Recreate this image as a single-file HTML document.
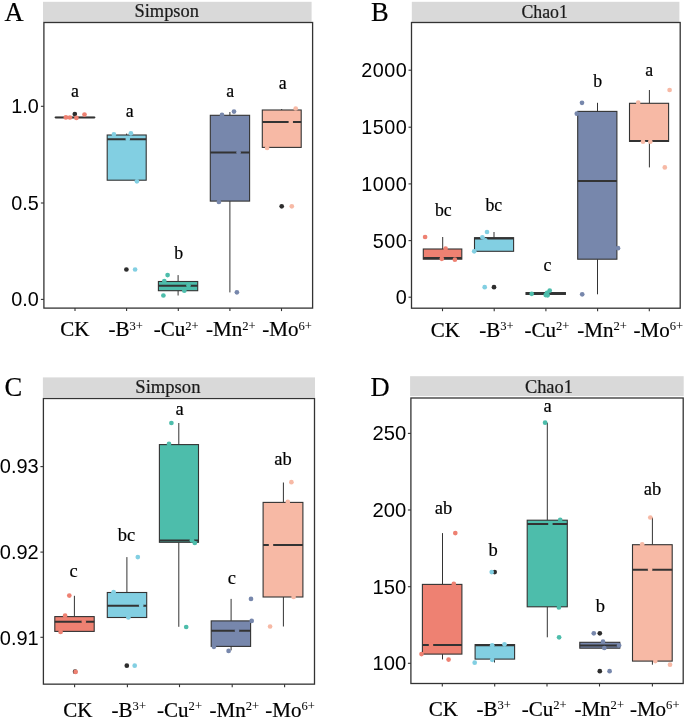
<!DOCTYPE html>
<html><head><meta charset="utf-8"><title>Alpha diversity boxplots</title>
<style>html,body{margin:0;padding:0;background:#fff;width:685px;height:719px;overflow:hidden}svg{display:block;will-change:transform}.s{font-family:"Liberation Serif",serif}.n{font-family:"Liberation Sans",sans-serif;fill:#000}</style>
</head><body>
<svg width="685" height="719" viewBox="0 0 685 719">
<rect width="685" height="719" fill="#fff"/>
<rect x="43" y="1.8" width="268.6" height="20.5" fill="#D9D9D9"/>
<text x="166.7" y="17.2" class="s" font-size="18.4" text-anchor="middle" fill="#1a1a1a" stroke="#1a1a1a" stroke-width="0.2">Simpson</text>
<text x="4.4" y="20.8" class="s" font-size="26.5" fill="#000" stroke="#000" stroke-width="0.2">A</text>
<line x1="40.9" y1="299.4" x2="43.9" y2="299.4" stroke="#333333" stroke-width="1.1"/>
<text x="38.8" y="306.4" class="n" font-size="19.8" text-anchor="end">0.0</text>
<line x1="40.9" y1="203" x2="43.9" y2="203" stroke="#333333" stroke-width="1.1"/>
<text x="38.8" y="210" class="n" font-size="19.8" text-anchor="end">0.5</text>
<line x1="40.9" y1="106.3" x2="43.9" y2="106.3" stroke="#333333" stroke-width="1.1"/>
<text x="38.8" y="113.3" class="n" font-size="19.8" text-anchor="end">1.0</text>
<line x1="75" y1="308.1" x2="75" y2="311.1" stroke="#333333" stroke-width="1.1"/>
<text x="60.24" y="336.4" class="s" font-size="21" fill="#000" stroke="#000" stroke-width="0.2">CK</text>
<line x1="126.6" y1="308.1" x2="126.6" y2="311.1" stroke="#333333" stroke-width="1.1"/>
<text x="108.52" y="336.4" class="s" font-size="21" fill="#000" stroke="#000" stroke-width="0.2">-B<tspan dy="-6.7" font-size="12.6" stroke-width="0.05">3+</tspan></text>
<line x1="178.3" y1="308.1" x2="178.3" y2="311.1" stroke="#333333" stroke-width="1.1"/>
<text x="153.82" y="336.4" class="s" font-size="21" fill="#000" stroke="#000" stroke-width="0.2">-Cu<tspan dy="-6.7" font-size="12.6" stroke-width="0.05">2+</tspan></text>
<line x1="229.9" y1="308.1" x2="229.9" y2="311.1" stroke="#333333" stroke-width="1.1"/>
<text x="206.12" y="336.4" class="s" font-size="21" fill="#000" stroke="#000" stroke-width="0.2">-Mn<tspan dy="-6.7" font-size="12.6" stroke-width="0.05">2+</tspan></text>
<line x1="281.5" y1="308.1" x2="281.5" y2="311.1" stroke="#333333" stroke-width="1.1"/>
<text x="262.22" y="336.4" class="s" font-size="21" fill="#000" stroke="#000" stroke-width="0.2">-Mo<tspan dy="-6.7" font-size="12.6" stroke-width="0.05">6+</tspan></text>
<rect x="55.2" y="117.4" width="39.6" height="0.01" fill="#EE8172" stroke="#333333" stroke-width="1.1"/>
<line x1="55.2" y1="117.4" x2="94.8" y2="117.4" stroke="#333333" stroke-width="2.0"/>
<line x1="126.6" y1="133.6" x2="126.6" y2="135" stroke="#333333" stroke-width="1.0"/>
<rect x="107.2" y="135" width="39" height="45.2" fill="#82CFE2" stroke="#333333" stroke-width="1.1"/>
<line x1="107.2" y1="139.3" x2="146.2" y2="139.3" stroke="#333333" stroke-width="2.0"/>
<line x1="178.1" y1="275.1" x2="178.1" y2="281.5" stroke="#333333" stroke-width="1.0"/>
<line x1="178.1" y1="290.7" x2="178.1" y2="295.5" stroke="#333333" stroke-width="1.0"/>
<rect x="158.4" y="281.5" width="39.3" height="9.2" fill="#4DBDAB" stroke="#333333" stroke-width="1.1"/>
<line x1="158.4" y1="285.7" x2="197.7" y2="285.7" stroke="#333333" stroke-width="2.0"/>
<line x1="229.9" y1="112" x2="229.9" y2="115.3" stroke="#333333" stroke-width="1.0"/>
<line x1="229.9" y1="201.1" x2="229.9" y2="292.4" stroke="#333333" stroke-width="1.0"/>
<rect x="210.3" y="115.3" width="39.3" height="85.8" fill="#7787AC" stroke="#333333" stroke-width="1.1"/>
<line x1="210.3" y1="152.4" x2="249.6" y2="152.4" stroke="#333333" stroke-width="2.0"/>
<line x1="281.7" y1="109" x2="281.7" y2="110" stroke="#333333" stroke-width="1.0"/>
<rect x="262.3" y="110" width="38.9" height="37.4" fill="#F7B9A5" stroke="#333333" stroke-width="1.1"/>
<line x1="262.3" y1="122.1" x2="301.2" y2="122.1" stroke="#333333" stroke-width="2.0"/>
<circle cx="74.8" cy="114" r="2.35" fill="#2d2d2d"/>
<circle cx="65.9" cy="117.4" r="2.35" fill="#EE8172"/>
<circle cx="69.9" cy="117.5" r="2.35" fill="#EE8172"/>
<circle cx="76.4" cy="117.9" r="2.35" fill="#EE8172"/>
<circle cx="84.5" cy="114.6" r="2.35" fill="#EE8172"/>
<circle cx="126.4" cy="269.5" r="2.35" fill="#2d2d2d"/>
<circle cx="113.9" cy="134.4" r="2.35" fill="#82CFE2"/>
<circle cx="130.9" cy="133.3" r="2.35" fill="#82CFE2"/>
<circle cx="127.8" cy="138.9" r="2.35" fill="#82CFE2"/>
<circle cx="136.9" cy="181.3" r="2.35" fill="#82CFE2"/>
<circle cx="135.1" cy="269.5" r="2.35" fill="#82CFE2"/>
<circle cx="167.6" cy="275.1" r="2.35" fill="#4DBDAB"/>
<circle cx="164.3" cy="281" r="2.35" fill="#4DBDAB"/>
<circle cx="163.4" cy="295.5" r="2.35" fill="#4DBDAB"/>
<circle cx="184.3" cy="290.7" r="2.35" fill="#4DBDAB"/>
<circle cx="188.5" cy="285.5" r="2.35" fill="#4DBDAB"/>
<circle cx="222" cy="114.9" r="2.35" fill="#7787AC"/>
<circle cx="234" cy="111.6" r="2.35" fill="#7787AC"/>
<circle cx="218.9" cy="201.9" r="2.35" fill="#7787AC"/>
<circle cx="236.9" cy="292.3" r="2.35" fill="#7787AC"/>
<circle cx="238.6" cy="152.4" r="2.35" fill="#7787AC"/>
<circle cx="281.7" cy="206.3" r="2.35" fill="#2d2d2d"/>
<circle cx="295.7" cy="108.5" r="2.35" fill="#F7B9A5"/>
<circle cx="267.1" cy="148" r="2.35" fill="#F7B9A5"/>
<circle cx="291.8" cy="206.3" r="2.35" fill="#F7B9A5"/>
<circle cx="290.8" cy="122" r="2.35" fill="#F7B9A5"/>
<text x="75" y="96.7" class="s" font-size="17.8" text-anchor="middle" fill="#000" stroke="#000" stroke-width="0.2">a</text>
<text x="129.6" y="116.8" class="s" font-size="17.8" text-anchor="middle" fill="#000" stroke="#000" stroke-width="0.2">a</text>
<text x="178.7" y="259.2" class="s" font-size="17.8" text-anchor="middle" fill="#000" stroke="#000" stroke-width="0.2">b</text>
<text x="230.1" y="97.2" class="s" font-size="17.8" text-anchor="middle" fill="#000" stroke="#000" stroke-width="0.2">a</text>
<text x="282.7" y="89" class="s" font-size="17.8" text-anchor="middle" fill="#000" stroke="#000" stroke-width="0.2">a</text>
<rect x="43.9" y="22.5" width="268.7" height="285.6" fill="none" stroke="#333333" stroke-width="1.3"/>
<rect x="411.8" y="1.8" width="267.6" height="20.5" fill="#D9D9D9"/>
<text x="544.6" y="18.1" class="s" font-size="17.8" text-anchor="middle" fill="#1a1a1a" stroke="#1a1a1a" stroke-width="0.2">Chao1</text>
<text x="371" y="20.8" class="s" font-size="26.5" fill="#000" stroke="#000" stroke-width="0.2">B</text>
<line x1="408.5" y1="297.2" x2="411.5" y2="297.2" stroke="#333333" stroke-width="1.1"/>
<text x="407.3" y="304.2" class="n" font-size="19.8" text-anchor="end" letter-spacing="0.5">0</text>
<line x1="408.5" y1="240.6" x2="411.5" y2="240.6" stroke="#333333" stroke-width="1.1"/>
<text x="407.3" y="247.6" class="n" font-size="19.8" text-anchor="end" letter-spacing="0.5">500</text>
<line x1="408.5" y1="183.9" x2="411.5" y2="183.9" stroke="#333333" stroke-width="1.1"/>
<text x="407.3" y="190.9" class="n" font-size="19.8" text-anchor="end" letter-spacing="0.5">1000</text>
<line x1="408.5" y1="127.2" x2="411.5" y2="127.2" stroke="#333333" stroke-width="1.1"/>
<text x="407.3" y="134.2" class="n" font-size="19.8" text-anchor="end" letter-spacing="0.5">1500</text>
<line x1="408.5" y1="70.2" x2="411.5" y2="70.2" stroke="#333333" stroke-width="1.1"/>
<text x="407.3" y="77.2" class="n" font-size="19.8" text-anchor="end" letter-spacing="0.5">2000</text>
<line x1="442.5" y1="308.2" x2="442.5" y2="311.2" stroke="#333333" stroke-width="1.1"/>
<text x="430.74" y="336.6" class="s" font-size="21" fill="#000" stroke="#000" stroke-width="0.2">CK</text>
<line x1="494.2" y1="308.2" x2="494.2" y2="311.2" stroke="#333333" stroke-width="1.1"/>
<text x="479.22" y="336.6" class="s" font-size="21" fill="#000" stroke="#000" stroke-width="0.2">-B<tspan dy="-6.7" font-size="12.6" stroke-width="0.05">3+</tspan></text>
<line x1="545.9" y1="308.2" x2="545.9" y2="311.2" stroke="#333333" stroke-width="1.1"/>
<text x="524.42" y="336.6" class="s" font-size="21" fill="#000" stroke="#000" stroke-width="0.2">-Cu<tspan dy="-6.7" font-size="12.6" stroke-width="0.05">2+</tspan></text>
<line x1="597.6" y1="308.2" x2="597.6" y2="311.2" stroke="#333333" stroke-width="1.1"/>
<text x="577.32" y="336.6" class="s" font-size="21" fill="#000" stroke="#000" stroke-width="0.2">-Mn<tspan dy="-6.7" font-size="12.6" stroke-width="0.05">2+</tspan></text>
<line x1="649.3" y1="308.2" x2="649.3" y2="311.2" stroke="#333333" stroke-width="1.1"/>
<text x="633.52" y="336.6" class="s" font-size="21" fill="#000" stroke="#000" stroke-width="0.2">-Mo<tspan dy="-6.7" font-size="12.6" stroke-width="0.05">6+</tspan></text>
<line x1="442.7" y1="237" x2="442.7" y2="249" stroke="#333333" stroke-width="1.0"/>
<rect x="423.3" y="249" width="38.5" height="10.2" fill="#EE8172" stroke="#333333" stroke-width="1.1"/>
<line x1="423.3" y1="258" x2="461.8" y2="258" stroke="#333333" stroke-width="2.0"/>
<line x1="494" y1="232" x2="494" y2="237.7" stroke="#333333" stroke-width="1.0"/>
<rect x="474.5" y="237.7" width="39.1" height="13.6" fill="#82CFE2" stroke="#333333" stroke-width="1.1"/>
<line x1="474.5" y1="238.4" x2="513.6" y2="238.4" stroke="#333333" stroke-width="2.0"/>
<rect x="526" y="292.6" width="39.4" height="1.8" fill="#4DBDAB" stroke="#333333" stroke-width="1.1"/>
<line x1="526" y1="293.5" x2="565.4" y2="293.5" stroke="#333333" stroke-width="2.0"/>
<line x1="597.5" y1="102.8" x2="597.5" y2="111.4" stroke="#333333" stroke-width="1.0"/>
<line x1="597.5" y1="259.2" x2="597.5" y2="294.3" stroke="#333333" stroke-width="1.0"/>
<rect x="577.7" y="111.4" width="39.2" height="147.8" fill="#7787AC" stroke="#333333" stroke-width="1.1"/>
<line x1="577.7" y1="180.9" x2="616.9" y2="180.9" stroke="#333333" stroke-width="2.0"/>
<line x1="649.4" y1="90" x2="649.4" y2="103.3" stroke="#333333" stroke-width="1.0"/>
<line x1="649.4" y1="141.4" x2="649.4" y2="167.4" stroke="#333333" stroke-width="1.0"/>
<rect x="629.5" y="103.3" width="39.1" height="38.1" fill="#F7B9A5" stroke="#333333" stroke-width="1.1"/>
<line x1="629.5" y1="141" x2="668.6" y2="141" stroke="#333333" stroke-width="2.0"/>
<circle cx="425.1" cy="237" r="2.35" fill="#EE8172"/>
<circle cx="445.6" cy="248.7" r="2.35" fill="#EE8172"/>
<circle cx="441.8" cy="258.8" r="2.35" fill="#EE8172"/>
<circle cx="454.9" cy="259.7" r="2.35" fill="#EE8172"/>
<circle cx="494" cy="287.2" r="2.35" fill="#2d2d2d"/>
<circle cx="487" cy="232" r="2.35" fill="#82CFE2"/>
<circle cx="482.4" cy="237.3" r="2.35" fill="#82CFE2"/>
<circle cx="485.3" cy="240.3" r="2.35" fill="#82CFE2"/>
<circle cx="474.2" cy="251.3" r="2.35" fill="#82CFE2"/>
<circle cx="484.7" cy="287.2" r="2.35" fill="#82CFE2"/>
<circle cx="531.7" cy="293.8" r="2.35" fill="#4DBDAB"/>
<circle cx="545.7" cy="295.1" r="2.35" fill="#4DBDAB"/>
<circle cx="547" cy="292.9" r="2.35" fill="#4DBDAB"/>
<circle cx="549.7" cy="290.6" r="2.35" fill="#4DBDAB"/>
<circle cx="547.6" cy="295.3" r="2.35" fill="#4DBDAB"/>
<circle cx="582" cy="102.8" r="2.35" fill="#7787AC"/>
<circle cx="576.8" cy="113.7" r="2.35" fill="#7787AC"/>
<circle cx="618" cy="248.2" r="2.35" fill="#7787AC"/>
<circle cx="582.2" cy="294.3" r="2.35" fill="#7787AC"/>
<circle cx="638.2" cy="102.7" r="2.35" fill="#F7B9A5"/>
<circle cx="669.6" cy="90" r="2.35" fill="#F7B9A5"/>
<circle cx="643" cy="141.7" r="2.35" fill="#F7B9A5"/>
<circle cx="650.3" cy="141.7" r="2.35" fill="#F7B9A5"/>
<circle cx="664.8" cy="167.4" r="2.35" fill="#F7B9A5"/>
<text x="443.3" y="215.9" class="s" font-size="17.8" text-anchor="middle" fill="#000" stroke="#000" stroke-width="0.2">bc</text>
<text x="493.8" y="211.4" class="s" font-size="17.8" text-anchor="middle" fill="#000" stroke="#000" stroke-width="0.2">bc</text>
<text x="547.5" y="270.6" class="s" font-size="17.8" text-anchor="middle" fill="#000" stroke="#000" stroke-width="0.2">c</text>
<text x="597.7" y="86.9" class="s" font-size="17.8" text-anchor="middle" fill="#000" stroke="#000" stroke-width="0.2">b</text>
<text x="649.1" y="75.9" class="s" font-size="17.8" text-anchor="middle" fill="#000" stroke="#000" stroke-width="0.2">a</text>
<rect x="411.5" y="22.5" width="268.7" height="285.7" fill="none" stroke="#333333" stroke-width="1.3"/>
<rect x="42.9" y="377.4" width="272.1" height="19.9" fill="#D9D9D9"/>
<text x="167.9" y="392.7" class="s" font-size="18.6" text-anchor="middle" fill="#1a1a1a" stroke="#1a1a1a" stroke-width="0.2">Simpson</text>
<text x="4.5" y="396.2" class="s" font-size="26.5" fill="#000" stroke="#000" stroke-width="0.2">C</text>
<line x1="40.4" y1="637.3" x2="43.4" y2="637.3" stroke="#333333" stroke-width="1.1"/>
<text x="38.7" y="644.9" class="n" font-size="20.0" text-anchor="end">0.91</text>
<line x1="40.4" y1="552.1" x2="43.4" y2="552.1" stroke="#333333" stroke-width="1.1"/>
<text x="38.7" y="559.3" class="n" font-size="20.0" text-anchor="end">0.92</text>
<line x1="40.4" y1="466.6" x2="43.4" y2="466.6" stroke="#333333" stroke-width="1.1"/>
<text x="38.7" y="472.7" class="n" font-size="20.0" text-anchor="end">0.93</text>
<line x1="74.6" y1="684.15" x2="74.6" y2="687.15" stroke="#333333" stroke-width="1.1"/>
<text x="63.34" y="716.6" class="s" font-size="21" fill="#000" stroke="#000" stroke-width="0.2">CK</text>
<line x1="127.4" y1="684.15" x2="127.4" y2="687.15" stroke="#333333" stroke-width="1.1"/>
<text x="111.62" y="716.6" class="s" font-size="21" fill="#000" stroke="#000" stroke-width="0.2">-B<tspan dy="-6.7" font-size="12.6" stroke-width="0.05">3+</tspan></text>
<line x1="179.5" y1="684.15" x2="179.5" y2="687.15" stroke="#333333" stroke-width="1.1"/>
<text x="157.12" y="716.6" class="s" font-size="21" fill="#000" stroke="#000" stroke-width="0.2">-Cu<tspan dy="-6.7" font-size="12.6" stroke-width="0.05">2+</tspan></text>
<line x1="232.2" y1="684.15" x2="232.2" y2="687.15" stroke="#333333" stroke-width="1.1"/>
<text x="209.62" y="716.6" class="s" font-size="21" fill="#000" stroke="#000" stroke-width="0.2">-Mn<tspan dy="-6.7" font-size="12.6" stroke-width="0.05">2+</tspan></text>
<line x1="284.6" y1="684.15" x2="284.6" y2="687.15" stroke="#333333" stroke-width="1.1"/>
<text x="265.22" y="716.6" class="s" font-size="21" fill="#000" stroke="#000" stroke-width="0.2">-Mo<tspan dy="-6.7" font-size="12.6" stroke-width="0.05">6+</tspan></text>
<line x1="74.4" y1="595.8" x2="74.4" y2="616.6" stroke="#333333" stroke-width="1.0"/>
<rect x="54.8" y="616.6" width="39.4" height="14.8" fill="#EE8172" stroke="#333333" stroke-width="1.1"/>
<line x1="54.8" y1="621.8" x2="94.2" y2="621.8" stroke="#333333" stroke-width="2.0"/>
<line x1="126.9" y1="557.1" x2="126.9" y2="592.5" stroke="#333333" stroke-width="1.0"/>
<rect x="107.3" y="592.5" width="39.4" height="25" fill="#82CFE2" stroke="#333333" stroke-width="1.1"/>
<line x1="107.3" y1="605.7" x2="146.7" y2="605.7" stroke="#333333" stroke-width="2.0"/>
<line x1="178.8" y1="423" x2="178.8" y2="444.6" stroke="#333333" stroke-width="1.0"/>
<line x1="178.8" y1="542.3" x2="178.8" y2="626.8" stroke="#333333" stroke-width="1.0"/>
<rect x="159.4" y="444.6" width="39.1" height="97.7" fill="#4DBDAB" stroke="#333333" stroke-width="1.1"/>
<line x1="159.4" y1="540.4" x2="198.5" y2="540.4" stroke="#333333" stroke-width="2.0"/>
<line x1="231.1" y1="598.9" x2="231.1" y2="620.9" stroke="#333333" stroke-width="1.0"/>
<line x1="231.1" y1="646.4" x2="231.1" y2="650.4" stroke="#333333" stroke-width="1.0"/>
<rect x="211.2" y="620.9" width="39.4" height="25.5" fill="#7787AC" stroke="#333333" stroke-width="1.1"/>
<line x1="211.2" y1="630.8" x2="250.6" y2="630.8" stroke="#333333" stroke-width="2.0"/>
<line x1="283.4" y1="482.5" x2="283.4" y2="502.4" stroke="#333333" stroke-width="1.0"/>
<line x1="283.4" y1="597" x2="283.4" y2="626.5" stroke="#333333" stroke-width="1.0"/>
<rect x="263.1" y="502.4" width="39.8" height="94.6" fill="#F7B9A5" stroke="#333333" stroke-width="1.1"/>
<line x1="263.1" y1="545" x2="302.9" y2="545" stroke="#333333" stroke-width="2.0"/>
<circle cx="75.1" cy="671.7" r="2.35" fill="#2d2d2d"/>
<circle cx="69.3" cy="595.6" r="2.35" fill="#EE8172"/>
<circle cx="65.1" cy="615.7" r="2.35" fill="#EE8172"/>
<circle cx="60.6" cy="631.9" r="2.35" fill="#EE8172"/>
<circle cx="83.8" cy="621.8" r="2.35" fill="#EE8172"/>
<circle cx="75.6" cy="671.9" r="2.35" fill="#EE8172"/>
<circle cx="126.8" cy="665.7" r="2.35" fill="#2d2d2d"/>
<circle cx="113.6" cy="592.2" r="2.35" fill="#82CFE2"/>
<circle cx="128.4" cy="617.5" r="2.35" fill="#82CFE2"/>
<circle cx="141.2" cy="605.7" r="2.35" fill="#82CFE2"/>
<circle cx="137.8" cy="557.1" r="2.35" fill="#82CFE2"/>
<circle cx="134.7" cy="665.7" r="2.35" fill="#82CFE2"/>
<circle cx="171.4" cy="423" r="2.35" fill="#4DBDAB"/>
<circle cx="169" cy="443.9" r="2.35" fill="#4DBDAB"/>
<circle cx="191.9" cy="540.3" r="2.35" fill="#4DBDAB"/>
<circle cx="194.8" cy="543" r="2.35" fill="#4DBDAB"/>
<circle cx="186.2" cy="627" r="2.35" fill="#4DBDAB"/>
<circle cx="251" cy="598.9" r="2.35" fill="#7787AC"/>
<circle cx="251.7" cy="620.9" r="2.35" fill="#7787AC"/>
<circle cx="213.9" cy="646.8" r="2.35" fill="#7787AC"/>
<circle cx="228.6" cy="650.9" r="2.35" fill="#7787AC"/>
<circle cx="237" cy="630.8" r="2.35" fill="#7787AC"/>
<circle cx="291.4" cy="482.2" r="2.35" fill="#F7B9A5"/>
<circle cx="287.8" cy="501.9" r="2.35" fill="#F7B9A5"/>
<circle cx="271" cy="545" r="2.35" fill="#F7B9A5"/>
<circle cx="293.6" cy="597" r="2.35" fill="#F7B9A5"/>
<circle cx="270.1" cy="626.5" r="2.35" fill="#F7B9A5"/>
<text x="73.7" y="576.8" class="s" font-size="18.5" text-anchor="middle" fill="#000" stroke="#000" stroke-width="0.2">c</text>
<text x="126.6" y="541.2" class="s" font-size="18.5" text-anchor="middle" fill="#000" stroke="#000" stroke-width="0.2">bc</text>
<text x="179.7" y="414.8" class="s" font-size="18.5" text-anchor="middle" fill="#000" stroke="#000" stroke-width="0.2">a</text>
<text x="231.8" y="583.7" class="s" font-size="18.5" text-anchor="middle" fill="#000" stroke="#000" stroke-width="0.2">c</text>
<text x="283.1" y="464.5" class="s" font-size="18.5" text-anchor="middle" fill="#000" stroke="#000" stroke-width="0.2">ab</text>
<rect x="43.4" y="398.5" width="271.1" height="285.65" fill="none" stroke="#333333" stroke-width="1.3"/>
<rect x="410.1" y="376.2" width="273.6" height="19.9" fill="#D9D9D9"/>
<text x="548.9" y="392.7" class="s" font-size="18.4" text-anchor="middle" fill="#1a1a1a" stroke="#1a1a1a" stroke-width="0.2">Chao1</text>
<text x="370.5" y="395.6" class="s" font-size="26.5" fill="#000" stroke="#000" stroke-width="0.2">D</text>
<line x1="407.9" y1="663.3" x2="410.9" y2="663.3" stroke="#333333" stroke-width="1.1"/>
<text x="406.2" y="670.3" class="n" font-size="20.2" text-anchor="end">100</text>
<line x1="407.9" y1="586.7" x2="410.9" y2="586.7" stroke="#333333" stroke-width="1.1"/>
<text x="406.2" y="593.7" class="n" font-size="20.2" text-anchor="end">150</text>
<line x1="407.9" y1="510" x2="410.9" y2="510" stroke="#333333" stroke-width="1.1"/>
<text x="406.2" y="517" class="n" font-size="20.2" text-anchor="end">200</text>
<line x1="407.9" y1="433.4" x2="410.9" y2="433.4" stroke="#333333" stroke-width="1.1"/>
<text x="406.2" y="440.4" class="n" font-size="20.2" text-anchor="end">250</text>
<line x1="442.3" y1="683.5" x2="442.3" y2="686.5" stroke="#333333" stroke-width="1.1"/>
<text x="428.84" y="715.9" class="s" font-size="21" fill="#000" stroke="#000" stroke-width="0.2">CK</text>
<line x1="494.7" y1="683.5" x2="494.7" y2="686.5" stroke="#333333" stroke-width="1.1"/>
<text x="476.52" y="715.9" class="s" font-size="21" fill="#000" stroke="#000" stroke-width="0.2">-B<tspan dy="-6.7" font-size="12.6" stroke-width="0.05">3+</tspan></text>
<line x1="547" y1="683.5" x2="547" y2="686.5" stroke="#333333" stroke-width="1.1"/>
<text x="521.72" y="715.9" class="s" font-size="21" fill="#000" stroke="#000" stroke-width="0.2">-Cu<tspan dy="-6.7" font-size="12.6" stroke-width="0.05">2+</tspan></text>
<line x1="599.5" y1="683.5" x2="599.5" y2="686.5" stroke="#333333" stroke-width="1.1"/>
<text x="574.42" y="715.9" class="s" font-size="21" fill="#000" stroke="#000" stroke-width="0.2">-Mn<tspan dy="-6.7" font-size="12.6" stroke-width="0.05">2+</tspan></text>
<line x1="652.4" y1="683.5" x2="652.4" y2="686.5" stroke="#333333" stroke-width="1.1"/>
<text x="629.92" y="715.9" class="s" font-size="21" fill="#000" stroke="#000" stroke-width="0.2">-Mo<tspan dy="-6.7" font-size="12.6" stroke-width="0.05">6+</tspan></text>
<line x1="442.5" y1="533.1" x2="442.5" y2="584.4" stroke="#333333" stroke-width="1.0"/>
<line x1="442.5" y1="654.1" x2="442.5" y2="659.4" stroke="#333333" stroke-width="1.0"/>
<rect x="422.4" y="584.4" width="39.5" height="69.7" fill="#EE8172" stroke="#333333" stroke-width="1.1"/>
<line x1="422.4" y1="645" x2="461.9" y2="645" stroke="#333333" stroke-width="2.0"/>
<line x1="494.5" y1="659.1" x2="494.5" y2="662.5" stroke="#333333" stroke-width="1.0"/>
<rect x="475.1" y="644.6" width="39.5" height="14.5" fill="#82CFE2" stroke="#333333" stroke-width="1.1"/>
<line x1="475.1" y1="645.3" x2="514.6" y2="645.3" stroke="#333333" stroke-width="2.0"/>
<line x1="547.3" y1="422.7" x2="547.3" y2="520.2" stroke="#333333" stroke-width="1.0"/>
<line x1="547.3" y1="606.8" x2="547.3" y2="637.3" stroke="#333333" stroke-width="1.0"/>
<rect x="527.2" y="520.2" width="40.1" height="86.6" fill="#4DBDAB" stroke="#333333" stroke-width="1.1"/>
<line x1="527.2" y1="524" x2="567.3" y2="524" stroke="#333333" stroke-width="2.0"/>
<rect x="579.8" y="642.3" width="40" height="5.9" fill="#7787AC" stroke="#333333" stroke-width="1.1"/>
<line x1="579.8" y1="645.4" x2="619.8" y2="645.4" stroke="#333333" stroke-width="2.0"/>
<line x1="652.4" y1="517.5" x2="652.4" y2="544.7" stroke="#333333" stroke-width="1.0"/>
<line x1="652.4" y1="661.1" x2="652.4" y2="664.7" stroke="#333333" stroke-width="1.0"/>
<rect x="632.5" y="544.7" width="39.7" height="116.4" fill="#F7B9A5" stroke="#333333" stroke-width="1.1"/>
<line x1="632.5" y1="569.7" x2="672.2" y2="569.7" stroke="#333333" stroke-width="2.0"/>
<circle cx="455.3" cy="533.1" r="2.35" fill="#EE8172"/>
<circle cx="453.8" cy="583.9" r="2.35" fill="#EE8172"/>
<circle cx="421.5" cy="654.1" r="2.35" fill="#EE8172"/>
<circle cx="448.6" cy="659.6" r="2.35" fill="#EE8172"/>
<circle cx="431" cy="645" r="2.35" fill="#EE8172"/>
<circle cx="494.7" cy="572.1" r="2.35" fill="#2d2d2d"/>
<circle cx="491.7" cy="572.1" r="2.35" fill="#82CFE2"/>
<circle cx="492.2" cy="645.3" r="2.35" fill="#82CFE2"/>
<circle cx="504.5" cy="644.3" r="2.35" fill="#82CFE2"/>
<circle cx="492.2" cy="659.8" r="2.35" fill="#82CFE2"/>
<circle cx="474.7" cy="662.7" r="2.35" fill="#82CFE2"/>
<circle cx="545.1" cy="422.7" r="2.35" fill="#4DBDAB"/>
<circle cx="560.2" cy="519.8" r="2.35" fill="#4DBDAB"/>
<circle cx="550.4" cy="524" r="2.35" fill="#4DBDAB"/>
<circle cx="558.9" cy="607.5" r="2.35" fill="#4DBDAB"/>
<circle cx="559.1" cy="637.3" r="2.35" fill="#4DBDAB"/>
<circle cx="599.8" cy="633.3" r="2.35" fill="#2d2d2d"/>
<circle cx="599.8" cy="671.2" r="2.35" fill="#2d2d2d"/>
<circle cx="593.8" cy="633.3" r="2.35" fill="#7787AC"/>
<circle cx="603" cy="641.7" r="2.35" fill="#7787AC"/>
<circle cx="604.3" cy="648" r="2.35" fill="#7787AC"/>
<circle cx="619.1" cy="645.4" r="2.35" fill="#7787AC"/>
<circle cx="609.6" cy="671.2" r="2.35" fill="#7787AC"/>
<circle cx="650.3" cy="517.5" r="2.35" fill="#F7B9A5"/>
<circle cx="642.2" cy="544.4" r="2.35" fill="#F7B9A5"/>
<circle cx="650.1" cy="569.7" r="2.35" fill="#F7B9A5"/>
<circle cx="655.3" cy="661.1" r="2.35" fill="#F7B9A5"/>
<circle cx="670" cy="664.7" r="2.35" fill="#F7B9A5"/>
<text x="443.5" y="514.4" class="s" font-size="18.5" text-anchor="middle" fill="#000" stroke="#000" stroke-width="0.2">ab</text>
<text x="493" y="555.7" class="s" font-size="18.5" text-anchor="middle" fill="#000" stroke="#000" stroke-width="0.2">b</text>
<text x="547.5" y="412.2" class="s" font-size="18.5" text-anchor="middle" fill="#000" stroke="#000" stroke-width="0.2">a</text>
<text x="600.4" y="611.8" class="s" font-size="18.5" text-anchor="middle" fill="#000" stroke="#000" stroke-width="0.2">b</text>
<text x="652.5" y="495.3" class="s" font-size="18.5" text-anchor="middle" fill="#000" stroke="#000" stroke-width="0.2">ab</text>
<rect x="410.9" y="398" width="272.3" height="285.5" fill="none" stroke="#333333" stroke-width="1.3"/>
</svg>
</body></html>
